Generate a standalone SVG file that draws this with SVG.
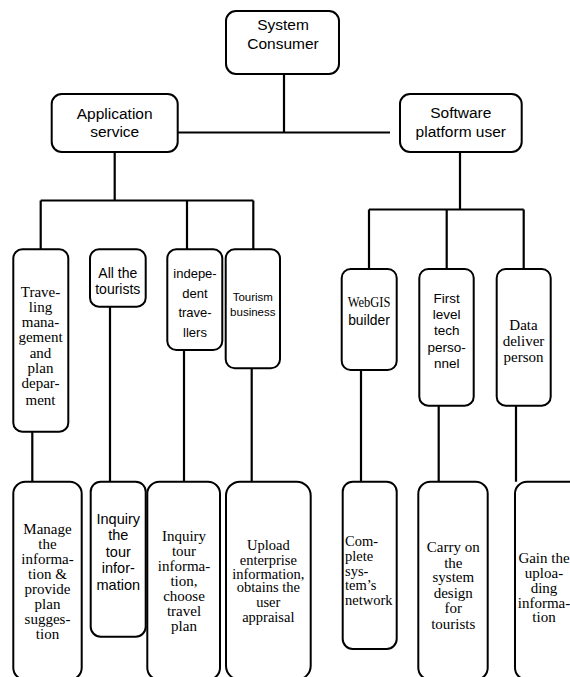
<svg xmlns="http://www.w3.org/2000/svg" width="570" height="677" viewBox="0 0 570 677">
<style>
.box{fill:#fff;stroke:#000;stroke-width:2}
.ln{stroke:#000;stroke-width:2.2;fill:none}
.s{fill:#000;text-anchor:middle}
.t{fill:#000;text-anchor:middle}
</style>
<rect width="570" height="677" fill="#fff"/>
<g id="connectors">
<path class="ln" d="M284 74V132.5M178 132.5H390"/>
<path class="ln" d="M114.7 152V200.5M40.7 200.5H253.3M40.7 200.5V249.3M187 200.5V249.3M253.3 200.5V249.3"/>
<path class="ln" d="M460 152V209.5M369 209.5H523.7M369 209.5V269M446.7 209.5V269M523.7 209.5V269"/>
<path class="ln" d="M32.3 423V481.7M110 306.7V481.7M184 346V481.7M251.7 365V481.7"/>
<path class="ln" d="M361 366V481.7M438.7 405.7V481.7M516 405.7V481.7"/>
</g>
<g id="system-consumer">
<rect class="box" x="226" y="11" width="113" height="63" rx="10"/>
<text class="s" font-family="'Liberation Sans', Arial, sans-serif" font-size="15.5"><tspan x="283" y="30">System</tspan><tspan x="283" y="49">Consumer</tspan></text>
</g>
<g id="application-service">
<rect class="box" x="51.7" y="94" width="126" height="58" rx="10"/>
<text class="s" font-family="'Liberation Sans', Arial, sans-serif" font-size="15.5"><tspan x="114.7" y="119">Application</tspan><tspan x="114.7" y="137">service</tspan></text>
</g>
<g id="software-platform-user">
<rect class="box" x="400" y="94" width="121.7" height="58" rx="10"/>
<text class="s" font-family="'Liberation Sans', Arial, sans-serif" font-size="15.5"><tspan x="460.8" y="118">Software</tspan><tspan x="460.8" y="137">platform user</tspan></text>
</g>
<g id="traveling-management">
<rect class="box" x="13.3" y="249.3" width="55" height="182.4" rx="9"/>
<text class="t" font-family="'Liberation Serif', 'Times New Roman', serif" font-size="15"><tspan x="40.5" y="296.7">Trave-</tspan><tspan x="40.5" y="311.5">ling</tspan><tspan x="40.5" y="327.3">mana-</tspan><tspan x="40.5" y="341.7">gement</tspan><tspan x="40.5" y="358.3">and</tspan><tspan x="40.5" y="372.7">plan</tspan><tspan x="40.5" y="387.7">depar-</tspan><tspan x="40.5" y="405">ment</tspan></text>
</g>
<g id="all-tourists">
<rect class="box" x="90" y="249.3" width="55.7" height="57.4" rx="9"/>
<text class="s" font-family="'Liberation Sans', Arial, sans-serif" font-size="14"><tspan x="117.8" y="278.3">All the</tspan><tspan x="117.8" y="294">tourists</tspan></text>
</g>
<g id="independent-travellers">
<rect class="box" x="167.3" y="249.3" width="55" height="100.7" rx="9"/>
<text class="s" font-family="'Liberation Sans', Arial, sans-serif" font-size="13"><tspan x="195" y="278.3">indepe-</tspan><tspan x="195" y="298.3">dent</tspan><tspan x="195" y="316.7">trave-</tspan><tspan x="195" y="336.7">llers</tspan></text>
</g>
<g id="tourism-business">
<rect class="box" x="225.7" y="249.3" width="54.3" height="119" rx="9"/>
<text class="s" font-family="'Liberation Sans', Arial, sans-serif" font-size="11.5"><tspan x="252.8" y="301">Tourism</tspan><tspan x="252.8" y="316">business</tspan></text>
</g>
<g id="webgis-builder">
<rect class="box" x="341.7" y="269" width="55" height="101" rx="9"/>
<text class="t" font-family="'Liberation Serif', 'Times New Roman', serif" font-size="14" x="369" y="307.3" textLength="42.7" lengthAdjust="spacingAndGlyphs">WebGIS</text>
<text class="s" font-family="'Liberation Sans', Arial, sans-serif" font-size="13.9" x="369" y="325">builder</text>
</g>
<g id="first-level-tech">
<rect class="box" x="419.3" y="269" width="54.4" height="136.7" rx="9"/>
<text class="s" font-family="'Liberation Sans', Arial, sans-serif" font-size="13.5"><tspan x="446.7" y="302.7">First</tspan><tspan x="446.7" y="319">level</tspan><tspan x="446.7" y="335">tech</tspan><tspan x="446.7" y="351.7">perso-</tspan><tspan x="446.7" y="368.3">nnel</tspan></text>
</g>
<g id="data-deliver">
<rect class="box" x="496.7" y="269" width="54" height="136.7" rx="9"/>
<text class="t" font-family="'Liberation Serif', 'Times New Roman', serif" font-size="15"><tspan x="523.5" y="330">Data</tspan><tspan x="523.5" y="346">deliver</tspan><tspan x="523.5" y="361.7">person</tspan></text>
</g>
<g id="manage-information">
<rect class="box" x="13.3" y="481.7" width="68.4" height="198" rx="12"/>
<text class="t" font-family="'Liberation Serif', 'Times New Roman', serif" font-size="15"><tspan x="47.5" y="534.3">Manage</tspan><tspan x="47.5" y="549">the</tspan><tspan x="47.5" y="563.7">informa-</tspan><tspan x="47.5" y="579">tion &amp;</tspan><tspan x="47.5" y="594.3">provide</tspan><tspan x="47.5" y="609">plan</tspan><tspan x="47.5" y="624">sugges-</tspan><tspan x="47.5" y="639">tion</tspan></text>
</g>
<g id="inquiry-tour-information">
<rect class="box" x="90.7" y="481.7" width="55" height="155" rx="10"/>
<text class="s" font-family="'Liberation Sans', Arial, sans-serif" font-size="14.5"><tspan x="118.3" y="524.3">Inquiry</tspan><tspan x="118.3" y="540">the</tspan><tspan x="118.3" y="556.7">tour</tspan><tspan x="118.3" y="572.7">infor-</tspan><tspan x="118.3" y="590">mation</tspan></text>
</g>
<g id="inquiry-choose-plan">
<rect class="box" x="147.3" y="481.7" width="72.7" height="198" rx="12"/>
<text class="t" font-family="'Liberation Serif', 'Times New Roman', serif" font-size="15"><tspan x="184" y="541">Inquiry</tspan><tspan x="184" y="556">tour</tspan><tspan x="184" y="571">informa-</tspan><tspan x="184" y="586">tion,</tspan><tspan x="184" y="601">choose</tspan><tspan x="184" y="616">travel</tspan><tspan x="184" y="631">plan</tspan></text>
</g>
<g id="upload-enterprise">
<rect class="box" x="226" y="481.7" width="84.7" height="198" rx="14"/>
<text class="t" font-family="'Liberation Serif', 'Times New Roman', serif" font-size="14.5"><tspan x="268.3" y="550.3">Upload</tspan><tspan x="268.3" y="564.6">enterprise</tspan><tspan x="268.3" y="578.5">information,</tspan><tspan x="268.3" y="592.3">obtains the</tspan><tspan x="268.3" y="606.5">user</tspan><tspan x="268.3" y="621.5">appraisal</tspan></text>
</g>
<g id="complete-network">
<rect class="box" x="342.7" y="481.7" width="54" height="167.3" rx="10"/>
<text class="t" font-family="'Liberation Serif', 'Times New Roman', serif" font-size="14.5" text-anchor="start" style="text-anchor:start"><tspan x="345" y="545.7">Com-</tspan><tspan x="345" y="560.7">plete</tspan><tspan x="345" y="575.7">sys-</tspan><tspan x="345" y="590">tem’s</tspan><tspan x="345" y="605">network</tspan></text>
</g>
<g id="carry-on-design">
<rect class="box" x="418.3" y="481.7" width="69.4" height="198" rx="12"/>
<text class="t" font-family="'Liberation Serif', 'Times New Roman', serif" font-size="15"><tspan x="453.3" y="552.3">Carry on</tspan><tspan x="453.3" y="567.7">the</tspan><tspan x="453.3" y="582.3">system</tspan><tspan x="453.3" y="597.7">design</tspan><tspan x="453.3" y="613.3">for</tspan><tspan x="453.3" y="629.3">tourists</tspan></text>
</g>
<g id="gain-uploading">
<rect class="box" x="515" y="481.7" width="70" height="198" rx="12"/>
<text class="t" font-family="'Liberation Serif', 'Times New Roman', serif" font-size="15"><tspan x="544" y="563.3">Gain the</tspan><tspan x="544" y="578.3">uploa-</tspan><tspan x="544" y="593.3">ding</tspan><tspan x="544" y="608.3">informa-</tspan><tspan x="544" y="622.3">tion</tspan></text>
</g>
</svg>
